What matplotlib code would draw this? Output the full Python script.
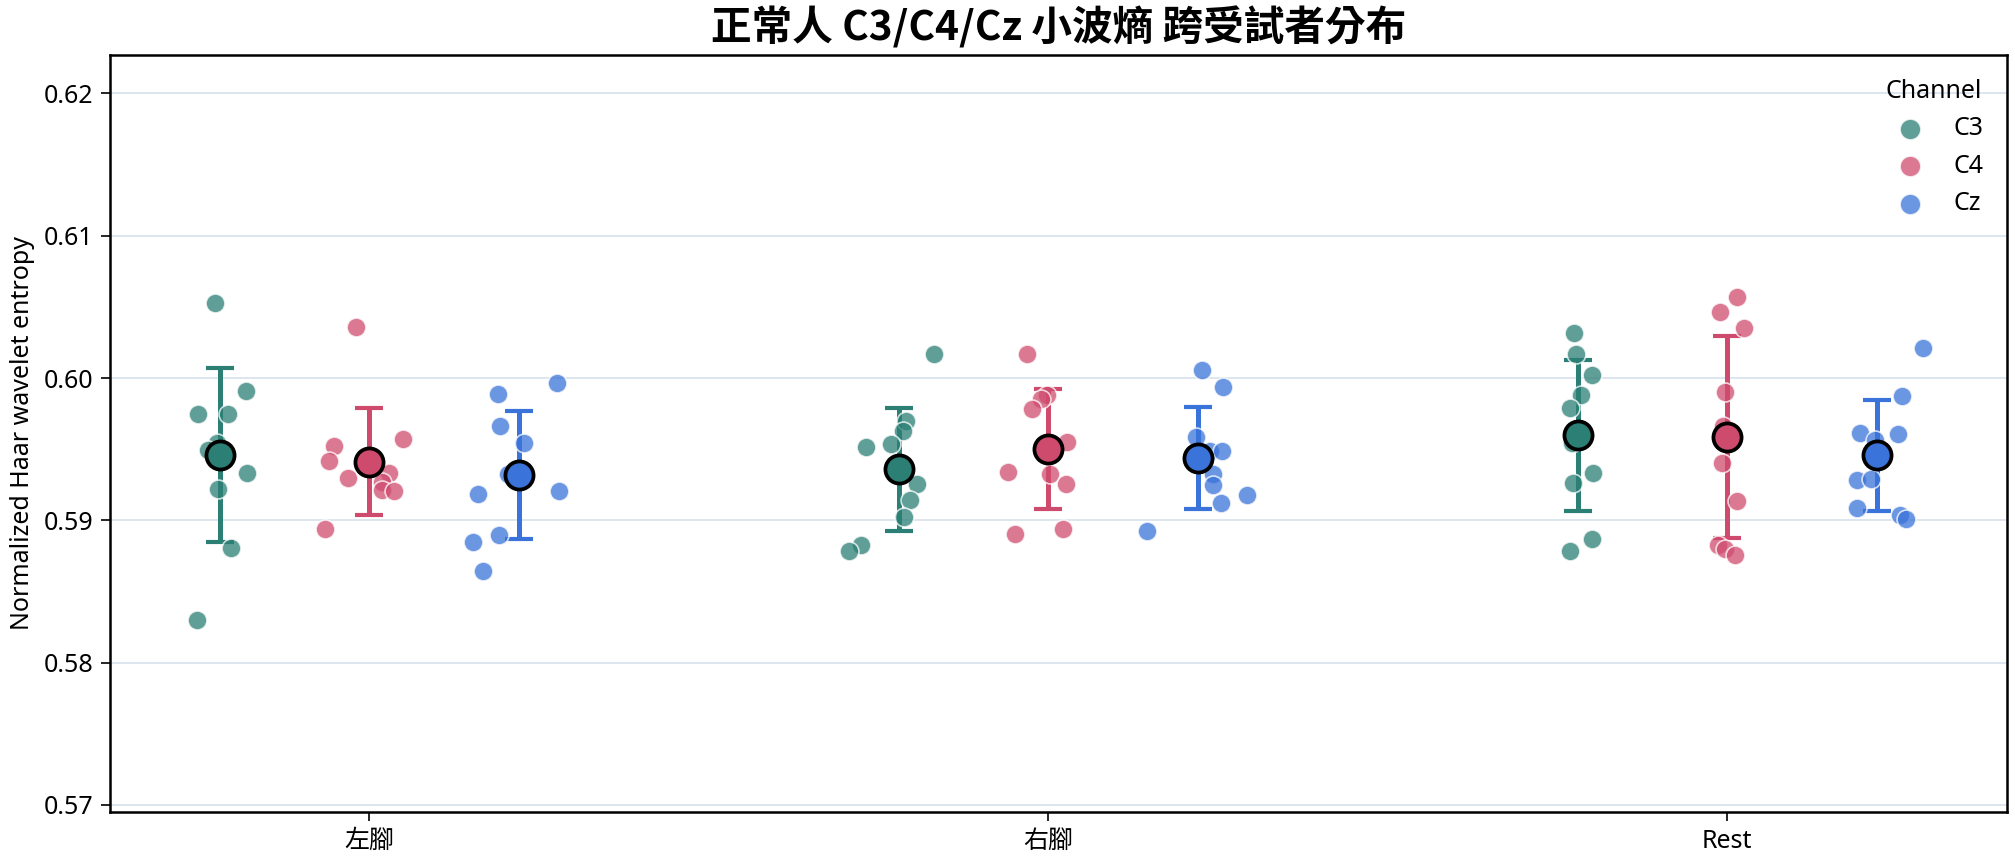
import numpy as np
import matplotlib
matplotlib.use("Agg")
import matplotlib.pyplot as plt

plt.rcParams['font.family'] = ['Noto Sans', 'Noto Sans CJK TC', 'DejaVu Sans']

# ---------------- data ----------------
conditions = ['左腳', '右腳', 'Rest']
channels = ['C3', 'C4', 'Cz']

c3_left  = [0.60525, 0.59906, 0.59744, 0.59749, 0.59541, 0.59494, 0.59332, 0.59219, 0.58802, 0.58296]
c3_right = [0.60172, 0.59696, 0.59626, 0.59537, 0.59518, 0.59256, 0.59143, 0.59023, 0.58823, 0.58783]
c3_rest  = [0.60316, 0.60172, 0.60019, 0.59883, 0.59786, 0.59541, 0.59334, 0.59263, 0.58866, 0.58783]

c4_left  = [0.60356, 0.59572, 0.59520, 0.59419, 0.59299, 0.59329, 0.59266, 0.59214, 0.59207, 0.58939]
c4_right = [0.60172, 0.59883, 0.59855, 0.59784, 0.59553, 0.59341, 0.59327, 0.59256, 0.58901, 0.58936]
c4_rest  = [0.60570, 0.60462, 0.60349, 0.59899, 0.59661, 0.59405, 0.59136, 0.58826, 0.58795, 0.58755]

cz_left  = [0.59967, 0.59890, 0.59666, 0.59546, 0.59325, 0.59184, 0.59207, 0.58896, 0.58847, 0.58642]
cz_right = [0.60059, 0.59939, 0.59588, 0.59489, 0.59489, 0.59325, 0.59249, 0.59122, 0.59179, 0.58924]
cz_rest  = [0.60208, 0.59871, 0.59617, 0.59605, 0.59567, 0.59285, 0.59290, 0.59087, 0.59037, 0.59007]

# horizontal jitter of each subject point (category units)
jit_c3_left  = [-0.007, 0.039, -0.033, 0.012, -0.005, -0.018, 0.040, -0.003, 0.016, -0.034]
jit_c3_right = [0.051, 0.011, 0.006, -0.011, -0.048, 0.026, 0.017, 0.007, -0.056, -0.074]
jit_c3_rest  = [-0.006, -0.003, 0.021, 0.004, -0.011, -0.008, 0.022, -0.007, 0.021, -0.012]

jit_c4_left  = [-0.019, 0.049, -0.052, -0.059, -0.032, 0.029, 0.019, 0.018, 0.036, -0.066]
jit_c4_right = [-0.031, -0.002, -0.011, -0.024, 0.028, -0.059, 0.002, 0.026, -0.049, 0.021]
jit_c4_rest  = [0.015, -0.010, 0.024, -0.004, -0.006, -0.008, 0.015, -0.014, -0.004, 0.012]

jit_cz_left  = [0.057, -0.031, -0.028, 0.008, -0.016, -0.060, 0.060, -0.029, -0.067, -0.052]
jit_cz_right = [0.007, 0.038, -0.003, 0.018, 0.036, 0.022, 0.022, 0.035, 0.073, -0.074]
jit_cz_rest  = [0.068, 0.037, -0.024, 0.031, -0.002, -0.029, -0.009, -0.029, 0.035, 0.043]

values = {
    'C3': [c3_left, c3_right, c3_rest],
    'C4': [c4_left, c4_right, c4_rest],
    'Cz': [cz_left, cz_right, cz_rest],
}
jitters = {
    'C3': [jit_c3_left, jit_c3_right, jit_c3_rest],
    'C4': [jit_c4_left, jit_c4_right, jit_c4_rest],
    'Cz': [jit_cz_left, jit_cz_right, jit_cz_rest],
}

colors = {'C3': '#2b7f75', 'C4': '#cf4b6e', 'Cz': '#3a73d9'}
dodge = {'C3': -0.22, 'C4': 0.0, 'Cz': 0.22}

# ---------------- figure ----------------
fig = plt.figure(figsize=(2015 / 150, 864 / 150), dpi=150)
ax = fig.add_axes([110 / 2015, 1 - 812 / 864, (2007 - 110) / 2015, (812 - 55) / 864])

for ch in channels:
    col = colors[ch]
    for ci, cond in enumerate(conditions):
        v = np.asarray(values[ch][ci])
        j = np.asarray(jitters[ch][ci])
        xc = ci + dodge[ch]
        ax.scatter(xc + j, v, s=82, color=col, alpha=0.75, edgecolors='white',
                   linewidths=0.8, zorder=3,
                   label=ch if ci == 0 else None)
        m = v.mean()
        sd = v.std(ddof=1)
        ax.errorbar([xc], [m], yerr=[sd], fmt='none', ecolor=col, elinewidth=2.4,
                    capsize=6.5, capthick=2.0, zorder=2)
        ax.plot([xc], [m], 'o', markersize=13.5, markerfacecolor=col,
                markeredgecolor='black', markeredgewidth=1.8, zorder=4)

ax.set_xlim(-0.382, 2.412)
ax.set_ylim(0.5695, 0.6227)
ax.set_xticks(range(len(conditions)))
ax.set_xticklabels(conditions)
ax.set_yticks(np.arange(0.57, 0.6201, 0.01))
ax.set_yticklabels([f'{t:.2f}' for t in np.arange(0.57, 0.6201, 0.01)])
ax.tick_params(axis='both', labelsize=12, length=4.5, width=0.8, colors='black')
ax.yaxis.grid(True, color='#dbe5ee', linewidth=0.9)
ax.xaxis.grid(False)
ax.set_axisbelow(True)
for sp in ax.spines.values():
    sp.set_linewidth(1.2)
    sp.set_color('black')

ax.set_ylabel('Normalized Haar wavelet entropy', fontsize=12)
ax.set_title('正常人 C3/C4/Cz 小波熵 跨受試者分布', fontsize=19.5, fontweight='bold', pad=7,
             family=['Noto Sans CJK TC', 'DejaVu Sans'])

leg = ax.legend(title='Channel', loc='upper right', frameon=False, fontsize=12,
                title_fontsize=12, handletextpad=0.75, markerscale=1.1,
                labelspacing=0.5, borderaxespad=0.55)

fig.savefig('out.png', dpi=150)
